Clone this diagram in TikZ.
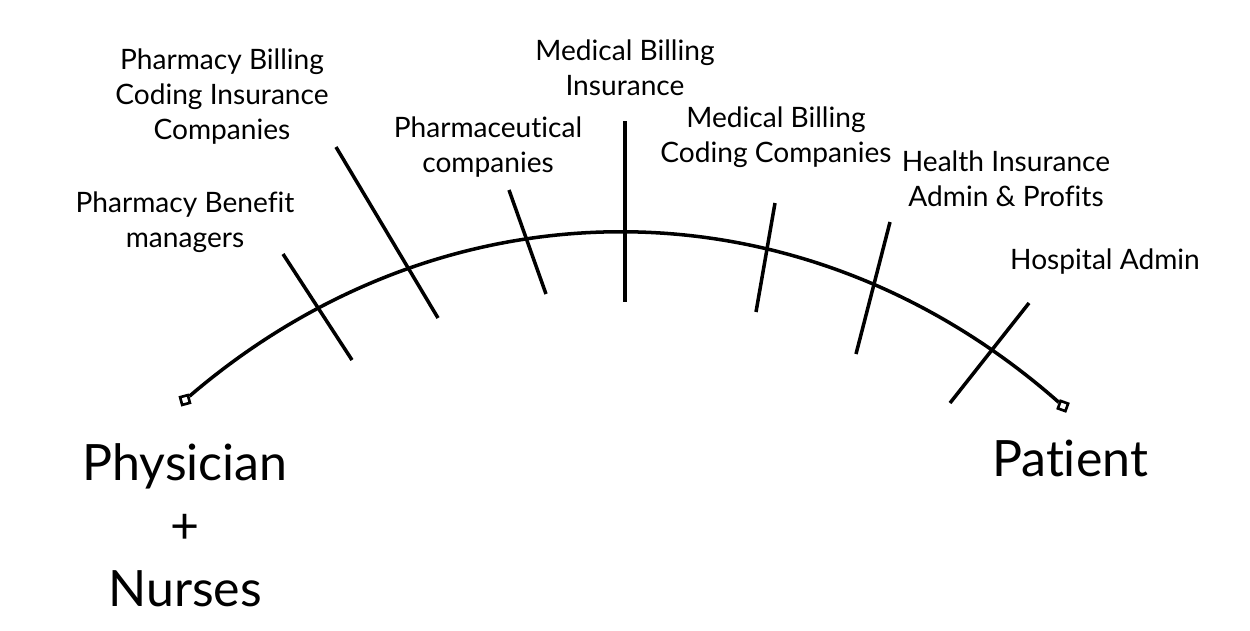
\documentclass[tikz,border=0pt]{standalone}
\usepackage{fontspec}
\setmainfont[Ligatures=NoCommon]{Lato}
\usetikzlibrary{positioning}

\begin{document}
\begin{tikzpicture}[
  x=0.02cm, y=-0.02cm,                     % pixel grid, y downward
  line width=2pt,
  lbl/.style    = {align=center, inner sep=0pt,
                   font=\fontsize{16}{19.9}\selectfont},
  bigtext/.style = {align=center, inner sep=0pt,
                   font=\fontsize{28.5}{36}\selectfont},
  endpt/.style  = {rectangle, draw, line width=1.5pt,
                   minimum size=0.16cm, inner sep=0pt},
  tick/.style   = {line width=2pt}
]
\useasboundingbox (0,0) rectangle (1250,630);

% ends of the road
\node[endpt, rotate=15]  (doc) at (185,400) {};
\node[endpt, rotate=-20] (pat) at (1063,406) {};
\draw (doc) to[bend left=41] (pat);

\node[bigtext] (docname) at (185,525) {Physician\\+\\Nurses};
\node[bigtext] (patname) at (1070,458) {Patient};

% the middlemen
\coordinate (pbmA) at (283,254);  \coordinate (pbmB) at (352,360);
\coordinate (pbcA) at (336,147);  \coordinate (pbcB) at (438,318);
\coordinate (phaA) at (509,190);  \coordinate (phaB) at (546,294);
\coordinate (mbiA) at (625,121);  \coordinate (mbiB) at (625,302);
\coordinate (mbcA) at (775,203);  \coordinate (mbcB) at (756,312);
\coordinate (hiaA) at (890,222);  \coordinate (hiaB) at (856,354);
\coordinate (hosA) at (1029,303); \coordinate (hosB) at (950,403);

\draw[tick] (pbmA) -- (pbmB);
\draw[tick] (pbcA) -- (pbcB);
\draw[tick] (phaA) -- (phaB);
\draw[tick] (mbiA) -- (mbiB);
\draw[tick] (mbcA) -- (mbcB);
\draw[tick] (hiaA) -- (hiaB);
\draw[tick] (hosA) -- (hosB);

\node[lbl] (pbm) at (185,222) {Pharmacy Benefit\\managers};
\node[lbl] (pbc) at (222,97)  {Pharmacy Billing\\Coding Insurance\\Companies};
\node[lbl] (pha) at (488,147) {Pharmaceutical\\companies};
\node[lbl] (mbi) at (625,68)  {Medical Billing\\Insurance};
\node[lbl] (mbc) at (776,137) {Medical Billing\\Coding Companies};
\node[lbl] (hia) at (1006,179) {Health Insurance\\Admin \& Profits};
\node[lbl] (hos) at (1105,262) {Hospital Admin};

\end{tikzpicture}
\end{document}
